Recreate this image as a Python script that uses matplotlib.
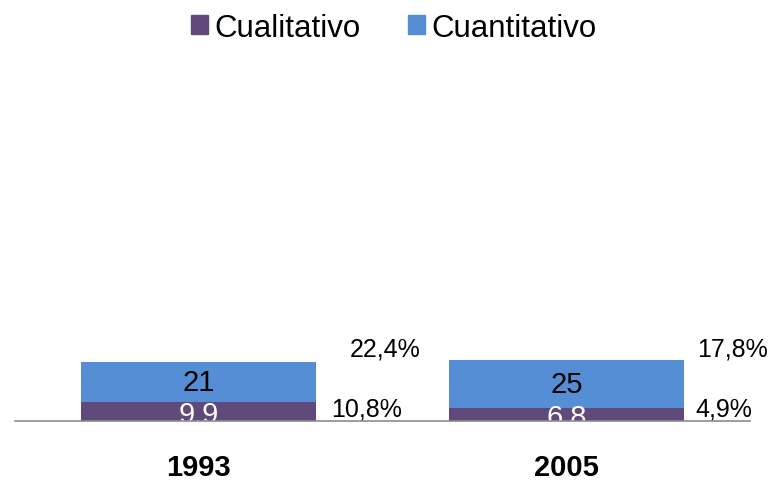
import matplotlib
matplotlib.use("Agg")
import matplotlib.pyplot as plt
from matplotlib.patches import Patch

plt.rcParams['font.family'] = ['Liberation Sans', 'DejaVu Sans']

years = ["1993", "2005"]
cualitativo = [9.9, 6.8]
cuantitativo = [21, 25]
cual_labels = ["9.9", "6.8"]
cuant_labels = ["21", "25"]
pct_cual = ["10,8%", "4,9%"]
pct_cuant = ["22,4%", "17,8%"]

c_purple = "#604A7B"
c_blue = "#558ED5"

fig = plt.figure(figsize=(7.72, 4.81), dpi=100)
ax = fig.add_axes([15/772, 59/481, 735/772, 362/481])

x = list(range(len(years)))
w = 0.64
ax.bar(x, cualitativo, width=w, color=c_purple, zorder=1)
ax.bar(x, cuantitativo, width=w, bottom=cualitativo, color=c_blue, zorder=1)

for i in x:
    ax.text(i, cualitativo[i] / 2 - 1.2, cual_labels[i], ha='center', va='center',
            color='white', fontsize=21, zorder=2)
    ax.text(i, cualitativo[i] + cuantitativo[i] / 2, cuant_labels[i], ha='center',
            va='center', color='black', fontsize=21, zorder=2)

# percentage annotations (left-aligned)
cuant_off = [0.412, 0.356]
cual_off = [0.360, 0.351]
for i in x:
    ax.text(i + cuant_off[i], 38.3, pct_cuant[i], ha='left', va='center', fontsize=18)
    ax.text(i + cual_off[i], 6.3, pct_cual[i], ha='left', va='center', fontsize=18)

ax.set_xlim(-0.5, 1.5)
ax.set_ylim(0, 190)
ax.set_yticks([])
ax.set_xticks(x)
ax.set_xticklabels(years, fontsize=21, fontweight='bold')
ax.tick_params(axis='x', length=0, pad=23)
for s in ['top', 'right', 'left']:
    ax.spines[s].set_visible(False)
ax.spines['bottom'].set_color('#8C8C8C')
ax.spines['bottom'].set_linewidth(1.2)
ax.spines['bottom'].set_zorder(3)

handles = [Patch(color=c_purple, label="Cualitativo"), Patch(color=c_blue, label="Cuantitativo")]
fig.legend(handles=handles, loc='upper center', bbox_to_anchor=(0.51, 1.03), ncol=2,
           frameon=False, fontsize=22.5, handlelength=0.55, handleheight=0.55,
           handletextpad=0.2, columnspacing=1.5)

fig.savefig("out.png", dpi=100)
